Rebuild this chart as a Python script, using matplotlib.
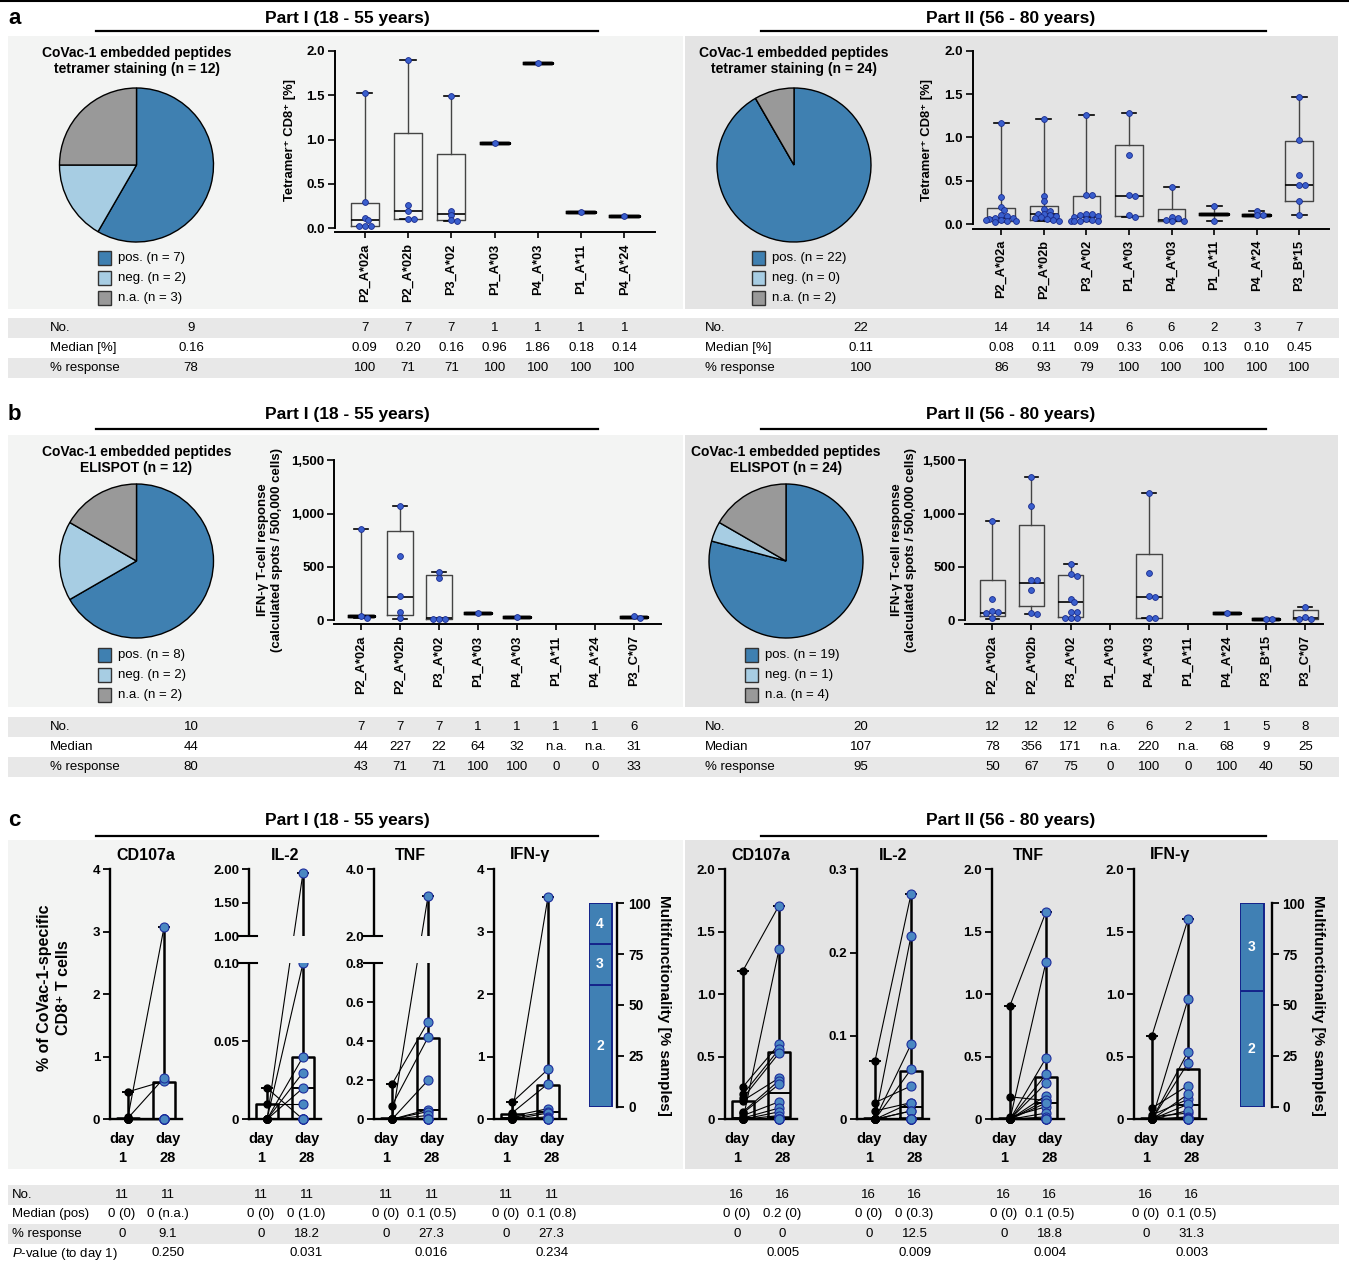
import numpy as np
import matplotlib
matplotlib.use('Agg')
import matplotlib.pyplot as plt
from matplotlib.patches import Rectangle
from matplotlib.transforms import blended_transform_factory

W, H = 1349, 1264
NARROW = ['Liberation Sans Narrow', 'Liberation Sans', 'DejaVu Sans']
WIDE = ['Liberation Sans', 'DejaVu Sans']
plt.rcParams['font.family'] = WIDE
plt.rcParams['mathtext.fontset'] = 'custom'
plt.rcParams['mathtext.rm'] = 'Liberation Sans'
plt.rcParams['mathtext.it'] = 'Liberation Sans:italic'
plt.rcParams['mathtext.bf'] = 'Liberation Sans:bold'

BG_L, BG_R, BAND = '#f3f4f3', '#e4e4e4', '#e8e8e8'
PIE_COLS = ['#3f80b1', '#a7cde3', '#999999']
DOT_FC, DOT_EC = '#3a5fcd', '#1a2b8c'
C_FC, C_EC = '#4a88c2', '#1d2d9c'
MF_FC, MF_EC = '#4080b4', '#14238a'

# ---------------- data ----------------
pie_labels = ['pos.', 'neg.', 'n.a.']
pie_a1 = [7, 2, 3]
pie_a2 = [22, 0, 2]
pie_b1 = [8, 2, 2]
pie_b2 = [19, 1, 4]

# a: tetramer staining, box stats = (min, q1, median, q3, max)
cats_a1 = ['P2_A*02a', 'P2_A*02b', 'P3_A*02', 'P1_A*03', 'P4_A*03', 'P1_A*11', 'P4_A*24']
pts_a1 = [[1.52, 0.30, 0.12, 0.09, 0.03, 0.03, 0.03],
          [1.90, 0.26, 0.20, 0.10, 0.10],
          [1.49, 0.20, 0.15, 0.09, 0.08],
          [0.96], [1.86], [0.18], [0.14]]
box_a1 = [(0.03, 0.03, 0.09, 0.29, 1.52), (0.10, 0.10, 0.20, 1.07, 1.90),
          (0.08, 0.09, 0.16, 0.84, 1.49), (0.96, 0.96, 0.96, 0.96, 0.96),
          (1.86, 1.86, 1.86, 1.86, 1.86), (0.18, 0.18, 0.18, 0.18, 0.18),
          (0.14, 0.14, 0.14, 0.14, 0.14)]

cats_a2 = ['P2_A*02a', 'P2_A*02b', 'P3_A*02', 'P1_A*03', 'P4_A*03', 'P1_A*11', 'P4_A*24', 'P3_B*15']
pts_a2 = [[1.17, 0.31, 0.20, 0.16, 0.10, 0.09, 0.07, 0.07, 0.06, 0.05, 0.05, 0.04, 0.03, 0.02],
          [1.21, 0.32, 0.27, 0.17, 0.15, 0.12, 0.12, 0.10, 0.09, 0.08, 0.07, 0.06, 0.05, 0.04],
          [1.26, 0.33, 0.33, 0.12, 0.11, 0.10, 0.09, 0.08, 0.06, 0.05, 0.04, 0.03, 0.03, 0.03],
          [1.28, 0.80, 0.34, 0.32, 0.10, 0.08],
          [0.43, 0.08, 0.07, 0.05, 0.04, 0.03],
          [0.21, 0.04],
          [0.15, 0.10, 0.10],
          [1.46, 0.97, 0.56, 0.45, 0.45, 0.26, 0.10]]
box_a2 = [(0.02, 0.03, 0.065, 0.18, 1.17), (0.04, 0.05, 0.12, 0.21, 1.21),
          (0.03, 0.035, 0.085, 0.32, 1.26), (0.08, 0.09, 0.32, 0.91, 1.28),
          (0.03, 0.03, 0.05, 0.17, 0.43), (0.04, 0.12, 0.12, 0.12, 0.21),
          (0.09, 0.10, 0.10, 0.10, 0.15), (0.10, 0.26, 0.45, 0.96, 1.46)]

# b: ELISPOT
cats_b1 = ['P2_A*02a', 'P2_A*02b', 'P3_A*02', 'P1_A*03', 'P4_A*03', 'P1_A*11', 'P4_A*24', 'P3_C*07']
pts_b1 = [[853, 42, 18], [1075, 600, 225, 75, 20], [456, 393, 16, 16, 16],
          [64], [32], [], [], [37, 19]]
box_b1 = [(18, 44, 44, 44, 853), (16, 50, 222, 834, 1075), (16, 16, 22, 422, 456),
          (64, 64, 64, 64, 64), (32, 32, 32, 32, 32), None, None, (31, 31, 31, 31, 31)]

cats_b2 = ['P2_A*02a', 'P2_A*02b', 'P3_A*02', 'P1_A*03', 'P4_A*03', 'P1_A*11', 'P4_A*24', 'P3_B*15', 'P3_C*07']
pts_b2 = [[928, 200, 90, 80, 70, 20], [1347, 1069, 380, 375, 280, 70, 60],
          [531, 430, 420, 200, 170, 80, 75, 20, 20, 20], [],
          [1194, 440, 230, 220, 20, 20], [], [68], [9, 9], [125, 35, 16, 16]]
box_b2 = [(16, 40, 72, 375, 928), (60, 134, 353, 894, 1347), (16, 34, 172, 422, 531), None,
          (20, 22, 216, 625, 1194), None, (68, 68, 68, 68, 68), (9, 9, 9, 9, 9),
          (10, 14, 20, 94, 125)]

# tables a / b (first value = all peptides)
tab_a1_no = ['9', '7', '7', '7', '1', '1', '1', '1']
tab_a1_med = ['0.16', '0.09', '0.20', '0.16', '0.96', '1.86', '0.18', '0.14']
tab_a1_resp = ['78', '100', '71', '71', '100', '100', '100', '100']
tab_a2_no = ['22', '14', '14', '14', '6', '6', '2', '3', '7']
tab_a2_med = ['0.11', '0.08', '0.11', '0.09', '0.33', '0.06', '0.13', '0.10', '0.45']
tab_a2_resp = ['100', '86', '93', '79', '100', '100', '100', '100', '100']
tab_b1_no = ['10', '7', '7', '7', '1', '1', '1', '1', '6']
tab_b1_med = ['44', '44', '227', '22', '64', '32', 'n.a.', 'n.a.', '31']
tab_b1_resp = ['80', '43', '71', '71', '100', '100', '0', '0', '33']
tab_b2_no = ['20', '12', '12', '12', '6', '6', '2', '1', '5', '8']
tab_b2_med = ['107', '78', '356', '171', 'n.a.', '220', 'n.a.', '68', '9', '25']
tab_b2_resp = ['95', '50', '67', '75', '0', '100', '0', '100', '40', '50']

# c: intracellular cytokine staining, paired day 1 / day 28 values
cd107a_p1_d1 = [0.44, 0.04, 0.02, 0, 0, 0, 0, 0, 0, 0, 0]
cd107a_p1_d28 = [0.61, 3.07, 0.66, 0, 0, 0, 0, 0, 0, 0, 0]
il2_p1_d1 = [0.02, 0.01, 0, 0, 0, 0, 0, 0, 0, 0, 0]
il2_p1_d28 = [0, 0.01, 1.95, 0.10, 0.04, 0.03, 0.02, 0, 0, 0, 0]
tnf_p1_d1 = [0.18, 0.07, 0, 0, 0, 0, 0, 0, 0, 0, 0]
tnf_p1_d28 = [0.50, 0.42, 3.20, 0.20, 0.05, 0.04, 0.02, 0, 0, 0, 0]
ifn_p1_d1 = [0.27, 0.10, 0.08, 0.05, 0.03, 0, 0, 0, 0, 0, 0]
ifn_p1_d28 = [0.80, 0.57, 3.56, 0.17, 0.12, 0.10, 0.04, 0.02, 0, 0, 0]
cd107a_p1_box = [(0, 0, 0, 0.02, 0.44), (0, 0, 0.01, 0.60, 3.07)]
il2_p1_box = [(0, 0, 0, 0.01, 0.02), (0, 0, 0.02, 0.04, 1.95)]
tnf_p1_box = [(0, 0, 0, 0.005, 0.18), (0, 0, 0.05, 0.415, 3.20)]
ifn_p1_box = [(0, 0, 0.02, 0.085, 0.27), (0, 0.01, 0.12, 0.55, 3.56)]

cd107a_p2_d1 = [1.19, 0.26, 0.20, 0.17, 0.15, 0.06, 0.05, 0.03, 0.01, 0, 0, 0, 0, 0, 0, 0]
cd107a_p2_d28 = [1.71, 0.60, 0.56, 0.53, 0.33, 0.31, 0.28, 0.14, 0.09, 1.36, 0.06, 0.03, 0, 0, 0, 0]
il2_p2_d1 = [0.07, 0.02, 0.01, 0, 0, 0, 0, 0, 0, 0, 0, 0, 0, 0, 0, 0]
il2_p2_d28 = [0.27, 0.04, 0.02, 0.22, 0.09, 0.06, 0.02, 0.01, 0.01, 0, 0, 0, 0, 0, 0, 0]
tnf_p2_d1 = [0.91, 0.18, 0.02, 0, 0, 0, 0, 0, 0, 0, 0, 0, 0, 0, 0, 0]
tnf_p2_d28 = [1.66, 0.15, 0.10, 1.26, 0.49, 0.36, 0.29, 0.19, 0.155, 0.13, 0.05, 0.02, 0, 0, 0, 0]
ifn_p2_d1 = [0.67, 0.09, 0.035, 0.02, 0, 0, 0, 0, 0, 0, 0, 0, 0, 0, 0, 0]
ifn_p2_d28 = [1.60, 0.27, 0.16, 0.05, 0.96, 0.54, 0.45, 0.20, 0.12, 0.07, 0.02, 0.01, 0, 0, 0, 0]
cd107a_p2_box = [(0, 0, 0.01, 0.15, 1.19), (0, 0.02, 0.21, 0.54, 1.71)]
il2_p2_box = [(0, 0, 0, 0.001, 0.07), (0, 0.001, 0.015, 0.058, 0.27)]
tnf_p2_box = [(0, 0, 0, 0.01, 0.91), (0, 0.005, 0.13, 0.335, 1.66)]
ifn_p2_box = [(0, 0, 0, 0.01, 0.67), (0, 0.01, 0.115, 0.40, 1.60)]

# multifunctionality (% of samples) for 2 / 3 / 4 functions
mf_p1 = [60, 20, 20]
mf_p1_labels = ['2', '3', '4']
mf_p2 = [57, 43]
mf_p2_labels = ['2', '3']

tab_c1_no = ['11', '11', '11', '11', '11', '11', '11', '11']
tab_c1_med = ['0 (0)', '0 (n.a.)', '0 (0)', '0 (1.0)', '0 (0)', '0.1 (0.5)', '0 (0)', '0.1 (0.8)']
tab_c1_resp = ['0', '9.1', '0', '18.2', '0', '27.3', '0', '27.3']
tab_c1_p = ['0.250', '0.031', '0.016', '0.234']
tab_c2_no = ['16', '16', '16', '16', '16', '16', '16', '16']
tab_c2_med = ['0 (0)', '0.2 (0)', '0 (0)', '0 (0.3)', '0 (0)', '0.1 (0.5)', '0 (0)', '0.1 (0.5)']
tab_c2_resp = ['0', '0', '0', '12.5', '0', '18.8', '0', '31.3']
tab_c2_p = ['0.005', '0.009', '0.004', '0.003']

# ---------------- figure ----------------
fig = plt.figure(figsize=(W / 100, H / 100), dpi=100)
canvas = fig.add_axes([0, 0, 1, 1], zorder=-5)
canvas.set_xlim(0, W)
canvas.set_ylim(H, 0)
canvas.axis('off')


def px_axes(x0, y0, x1, y1):
    ax = fig.add_axes([x0 / W, 1 - y1 / H, (x1 - x0) / W, (y1 - y0) / H])
    ax.patch.set_visible(False)
    return ax


def text(x, y, s, size=9.5, bold=False, ha='center', va='center', fam=NARROW, **kw):
    return canvas.text(x, y, s, fontsize=size, fontweight='bold' if bold else 'normal',
                       family=fam, ha=ha, va=va, **kw)


def rect(x0, y0, x1, y1, color, **kw):
    canvas.add_patch(Rectangle((x0, y0), x1 - x0, y1 - y0, facecolor=color, **kw))


# backgrounds and bands
canvas.plot([0, W], [1, 1], color='k', lw=1.5)
for y0, y1 in [(36, 309), (435, 707), (840, 1169)]:
    rect(8, y0, 683, y1, BG_L, lw=0)
    rect(685, y0, 1338, y1, BG_R, lw=0)
for y0, y1 in [(318, 338), (358, 378), (717, 737), (757, 777), (1185, 1205), (1224, 1244)]:
    rect(8, y0, 1339, y1, BAND, lw=0)

# panel headers
for letter, ty, ly in [('a', 19, 31), ('b', 414, 429), ('c', 820, 836)]:
    text(8, ty, letter, size=16, bold=True, ha='left', fam=WIDE)
    text(347, ty, 'Part I (18 - 55 years)', size=12.5, bold=True)
    text(1011, ty, 'Part II (56 - 80 years)', size=12.5, bold=True)
    canvas.plot([96, 598], [ly, ly], color='k', lw=1.6)
    canvas.plot([761, 1266], [ly, ly], color='k', lw=1.6)


def draw_pie(cx, cy, r, counts, title, ty, lx, ly):
    ax = px_axes(cx - r * 1.03, cy - r * 1.03, cx + r * 1.03, cy + r * 1.03)
    ax.pie(counts, colors=PIE_COLS, startangle=90, counterclock=False,
           wedgeprops=dict(edgecolor='k', linewidth=1.0))
    ax.set_xlim(-1.03, 1.03)
    ax.set_ylim(-1.03, 1.03)
    text(cx, ty, title, size=10, bold=True, linespacing=1.25)
    for i, (lab, n) in enumerate(zip(pie_labels, counts)):
        yy = ly + 20 * i
        rect(lx, yy - 6.7, lx + 13.4, yy + 6.7, PIE_COLS[i], edgecolor='#333333', lw=1.0)
        text(lx + 20, yy, f'{lab} (n = {n})', size=9.5, ha='left')


draw_pie(136.5, 165, 77, pie_a1, 'CoVac-1 embedded peptides\ntetramer staining (n = 12)', 61, 97.6, 258)
draw_pie(794, 165, 77, pie_a2, 'CoVac-1 embedded peptides\ntetramer staining (n = 24)', 61, 752, 258)
draw_pie(136.5, 561, 77, pie_b1, 'CoVac-1 embedded peptides\nELISPOT (n = 12)', 460, 97.6, 655)
draw_pie(786, 561, 77, pie_b2, 'CoVac-1 embedded peptides\nELISPOT (n = 24)', 460, 745, 655)


def swarm(vals, ppu_y, ppu_x, d=5.0):
    # simple beeswarm: shift a dot sideways until it no longer sits on a placed one
    placed = []
    offs = np.zeros(len(vals))
    for i in np.argsort(vals)[::-1]:
        y = vals[i] * ppu_y
        for k in [0, 1, -1, 2, -2, 3, -3, 4, -4, 5, -5]:
            x = k * 0.6 * d
            if all((x - px) ** 2 + (y - py) ** 2 >= (0.8 * d) ** 2 for px, py in placed):
                break
        placed.append((x, y))
        offs[i] = x / ppu_x
    return offs


def draw_boxes(box_px, xlim, ylim, cats, pts, stats, yticks, yticklabels):
    x0, y0, x1, y1 = box_px
    ax = px_axes(x0, y0, x1, y1)
    ax.set_xlim(*xlim)
    ax.set_ylim(*ylim)
    ppu_x = (x1 - x0) / (xlim[1] - xlim[0])
    ppu_y = (y1 - y0) / (ylim[1] - ylim[0])
    common = dict(showfliers=False, widths=0.65, capwidths=0.35, manage_ticks=False,
                  whiskerprops=dict(color='#444444', lw=1.0), capprops=dict(color='k', lw=1.2))
    full = [i for i, s in enumerate(stats) if s is not None and s[3] - s[1] > 1e-9]
    flat = [i for i, s in enumerate(stats) if s is not None and s[3] - s[1] <= 1e-9]
    mk = lambda s: dict(whislo=s[0], q1=s[1], med=s[2], q3=s[3], whishi=s[4], fliers=[])
    if full:
        ax.bxp([mk(stats[i]) for i in full], positions=full,
               boxprops=dict(color='#444444', lw=1.0), medianprops=dict(color='k', lw=1.2), **common)
    if flat:
        ax.bxp([mk(stats[i]) for i in flat], positions=flat,
               boxprops=dict(color='k', lw=2.4), medianprops=dict(color='k', lw=2.4), **common)
    for i, vals in enumerate(pts):
        if not vals:
            continue
        offs = swarm(np.array(vals, float), ppu_y, ppu_x)
        ax.plot(i + offs, vals, 'o', ms=4.2, mfc=DOT_FC, mec=DOT_EC, mew=0.6, zorder=4, clip_on=False)
    ax.spines[['top', 'right']].set_visible(False)
    ax.spines['left'].set_bounds(0, yticks[-1])
    for sp in ['left', 'bottom']:
        ax.spines[sp].set_linewidth(1.4)
    ax.set_xticks(range(len(cats)), labels=cats, rotation=90, fontsize=9.2, fontweight='bold', family=WIDE)
    ax.tick_params(axis='x', length=4, width=1.2, pad=4)
    ax.set_yticks(yticks, labels=yticklabels, fontsize=9.5, fontweight='bold', family=NARROW)
    ax.tick_params(axis='y', length=5, width=1.2, pad=2)
    return ax


ax_a1 = draw_boxes((334.8, 50.7, 654.8, 232.3), (-0.69, 6.70), (-0.045, 2.0), cats_a1, pts_a1, box_a1,
                   [0, 0.5, 1.0, 1.5, 2.0], ['0.0', '0.5', '1.0', '1.5', '2.0'])
ax_a2 = draw_boxes((972.8, 50.7, 1329, 228.7), (-0.67, 7.70), (-0.054, 2.0), cats_a2, pts_a2, box_a2,
                   [0, 0.5, 1.0, 1.5, 2.0], ['0.0', '0.5', '1.0', '1.5', '2.0'])
ax_b1 = draw_boxes((333.9, 460.3, 661.3, 624.3), (-0.70, 7.70), (-37.5, 1500), cats_b1, pts_b1, box_b1,
                   [0, 500, 1000, 1500], ['0', '500', '1,000', '1,500'])
ax_b2 = draw_boxes((965, 460.3, 1322.5, 624.3), (-0.70, 8.44), (-37.5, 1500), cats_b2, pts_b2, box_b2,
                   [0, 500, 1000, 1500], ['0', '500', '1,000', '1,500'])

ylab_a = 'Tetramer\u207a CD8\u207a [%]'
text(290, 140, ylab_a, size=9.4, bold=True, fam=WIDE, rotation=90)
text(927, 140, ylab_a, size=9.4, bold=True, fam=WIDE, rotation=90)
ylab_b = 'IFN-\u03b3 T-cell response\n(calculated spots / 500,000 cells)'
text(270, 550, ylab_b, size=9.5, bold=True, fam=WIDE, rotation=90, linespacing=1.2)
text(904, 550, ylab_b, size=9.5, bold=True, fam=WIDE, rotation=90, linespacing=1.2)


def draw_table(ax, x_label, x_first, rows, ys, label_names):
    trans = blended_transform_factory(ax.transData, canvas.transData)
    for vals, y, name in zip(rows, ys, label_names):
        text(x_label, y, name, ha='left')
        text(x_first, y, vals[0])
        for i, v in enumerate(vals[1:]):
            canvas.text(i, y, v, transform=trans, fontsize=9.5, family=NARROW, ha='center', va='center')


draw_table(ax_a1, 50, 191, [tab_a1_no, tab_a1_med, tab_a1_resp], [328, 348, 368], ['No.', 'Median [%]', '% response'])
draw_table(ax_a2, 705, 861, [tab_a2_no, tab_a2_med, tab_a2_resp], [328, 348, 368], ['No.', 'Median [%]', '% response'])
draw_table(ax_b1, 50, 191, [tab_b1_no, tab_b1_med, tab_b1_resp], [727, 747, 767], ['No.', 'Median', '% response'])
draw_table(ax_b2, 705, 861, [tab_b2_no, tab_b2_med, tab_b2_resp], [727, 747, 767], ['No.', 'Median', '% response'])


# ---------------- panel c ----------------
def broken_funcs(b0, b1, top, lo_px=156.0, gap_px=27.0, up_px=67.0):
    def fwd(y):
        y = np.asarray(y, float)
        return np.where(y <= b0, y / b0 * lo_px,
                        np.where(y < b1, lo_px + (y - b0) / (b1 - b0) * gap_px,
                                 lo_px + gap_px + (y - b1) / (top - b1) * up_px))

    def inv(u):
        u = np.asarray(u, float)
        return np.where(u <= lo_px, u / lo_px * b0,
                        np.where(u < lo_px + gap_px, b0 + (u - lo_px) / gap_px * (b1 - b0),
                                 b1 + (u - lo_px - gap_px) / up_px * (top - b1)))
    return fwd, inv


C_TOP, C_BOT = 869.3, 1119.3


def draw_c(spine_x, title, d1, d28, box, ymax, yticks, ylabels, brk, bg):
    ax = px_axes(spine_x, C_TOP, spine_x + 72, C_BOT)
    if brk:
        ax.set_yscale('function', functions=broken_funcs(brk[0], brk[1], ymax))
    ax.set_xlim(-0.5, 1.5)
    ax.set_ylim(0, ymax)
    for a, b in zip(d1, d28):
        ax.plot([0, 1], [a, b], color='k', lw=0.8, zorder=3, clip_on=False)
    stats = [dict(whislo=s[0], q1=s[1], med=s[2], q3=s[3], whishi=s[4], fliers=[]) for s in box]
    ax.bxp(stats, positions=[0, 1], widths=0.62, capwidths=0.3, showfliers=False, manage_ticks=False,
           boxprops=dict(color='k', lw=1.8), whiskerprops=dict(color='k', lw=1.8),
           capprops=dict(color='k', lw=1.4), medianprops=dict(color='k', lw=1.4))
    ax.plot(np.zeros(len(d1)), d1, 'o', ms=5, mfc='k', mec='k', zorder=4, clip_on=False)
    ax.plot(np.ones(len(d28)), d28, 'o', ms=6.5, mfc=C_FC, mec=C_EC, mew=0.8, zorder=4, clip_on=False)
    if brk:
        ax.axhspan(brk[0], brk[1], xmin=-0.12, xmax=1.0, color=bg, lw=0, zorder=5, clip_on=False)
        tr = blended_transform_factory(ax.transAxes, ax.transData)
        for yb in brk:
            ax.plot([-10 / 72, 8 / 72], [yb, yb], color='k', lw=1.5, transform=tr, clip_on=False, zorder=6)
    ax.spines[['top', 'right']].set_visible(False)
    ax.spines['left'].set_bounds(0, ymax)
    for sp in ['left', 'bottom']:
        ax.spines[sp].set_linewidth(1.7)
    ax.set_yticks(yticks, labels=ylabels, fontsize=9.6, fontweight='bold', family=NARROW)
    ax.tick_params(axis='y', length=5, width=1.3, pad=2)
    ax.set_xticks([-0.17, 1.1], labels=['day\n1', 'day\n28'], fontsize=10.5, fontweight='bold',
                  family=NARROW, linespacing=1.45)
    ax.tick_params(axis='x', length=0, pad=9)
    text(spine_x + 36, 855, title, size=11.5, bold=True)
    return ax


t4 = [0, 1, 2, 3, 4]
t4l = ['0', '1', '2', '3', '4']
t2 = [0, 0.5, 1.0, 1.5, 2.0]
t2l = ['0', '0.5', '1.0', '1.5', '2.0']
c_left = [
    draw_c(110, 'CD107a', cd107a_p1_d1, cd107a_p1_d28, cd107a_p1_box, 4, t4, t4l, None, BG_L),
    draw_c(249, 'IL-2', il2_p1_d1, il2_p1_d28, il2_p1_box, 2.0, [0, 0.05, 0.10, 1.0, 1.5, 2.0],
           ['0', '0.05', '0.10', '1.00', '1.50', '2.00'], (0.10, 1.0), BG_L),
    draw_c(374, 'TNF', tnf_p1_d1, tnf_p1_d28, tnf_p1_box, 4.0, [0, 0.2, 0.4, 0.6, 0.8, 2.0, 4.0],
           ['0', '0.2', '0.4', '0.6', '0.8', '2.0', '4.0'], (0.8, 2.0), BG_L),
    draw_c(494, 'IFN-\u03b3', ifn_p1_d1, ifn_p1_d28, ifn_p1_box, 4, t4, t4l, None, BG_L),
]
c_right = [
    draw_c(725, 'CD107a', cd107a_p2_d1, cd107a_p2_d28, cd107a_p2_box, 2.0, t2, t2l, None, BG_R),
    draw_c(857, 'IL-2', il2_p2_d1, il2_p2_d28, il2_p2_box, 0.3, [0, 0.1, 0.2, 0.3],
           ['0', '0.1', '0.2', '0.3'], None, BG_R),
    draw_c(992, 'TNF', tnf_p2_d1, tnf_p2_d28, tnf_p2_box, 2.0, t2, t2l, None, BG_R),
    draw_c(1134, 'IFN-\u03b3', ifn_p2_d1, ifn_p2_d28, ifn_p2_box, 2.0, t2, t2l, None, BG_R),
]

text(54, 988, '% of CoVac-1-specific\nCD8\u207a T cells', size=11.5, bold=True, fam=WIDE, rotation=90,
     linespacing=1.3)


def draw_mf(x0, x1, spine_x, pcts, labels, label_x):
    ax = px_axes(x0, 903.3, spine_x, 1106.7)
    ax.set_xlim(0, spine_x - x0)
    ax.set_ylim(0, 100)
    bottom = 0
    for p, lab in zip(pcts, labels):
        ax.bar(0, p, bottom=bottom, width=x1 - x0, align='edge', color=MF_FC, edgecolor=MF_EC, linewidth=1.4)
        ax.text((x1 - x0) / 2, bottom + p / 2, lab, color='white', ha='center', va='center',
                fontsize=10, fontweight='bold')
        bottom += p
    ax.spines[['top', 'left', 'bottom']].set_visible(False)
    ax.spines['right'].set_linewidth(1.7)
    ax.yaxis.tick_right()
    ax.set_xticks([])
    ax.set_yticks([0, 25, 50, 75, 100], labels=['0', '25', '50', '75', '100'], fontsize=9.8,
                  fontweight='bold', family=NARROW)
    ax.tick_params(axis='y', length=5, width=1.3, pad=3)
    text(label_x, 1005, 'Multifunctionality [% samples]', size=11, bold=True, fam=WIDE, rotation=270)


draw_mf(588.5, 611.5, 617, mf_p1, mf_p1_labels, 664)
draw_mf(1240, 1263.5, 1271.5, mf_p2, mf_p2_labels, 1318)

# table c
row_y = [1195, 1214.5, 1234, 1253.5]
for name, y in zip(['No.', 'Median (pos)', '% response', '$\\it{P}$-value (to day 1)'], row_y):
    text(12, y, name, ha='left')
for axes_list, t_no, t_med, t_resp, t_p in [(c_left, tab_c1_no, tab_c1_med, tab_c1_resp, tab_c1_p),
                                             (c_right, tab_c2_no, tab_c2_med, tab_c2_resp, tab_c2_p)]:
    for k, ax in enumerate(axes_list):
        trans = blended_transform_factory(ax.transData, canvas.transData)
        for j, xpos in enumerate([-0.17, 1.1]):
            for vals, y in zip([t_no, t_med, t_resp], row_y[:3]):
                canvas.text(xpos, y, vals[2 * k + j], transform=trans, fontsize=9.5, family=NARROW,
                            ha='center', va='center')
        canvas.text(1.1, row_y[3], t_p[k], transform=trans, fontsize=9.5, family=NARROW,
                    ha='center', va='center')

fig.savefig('out.png', dpi=100)
